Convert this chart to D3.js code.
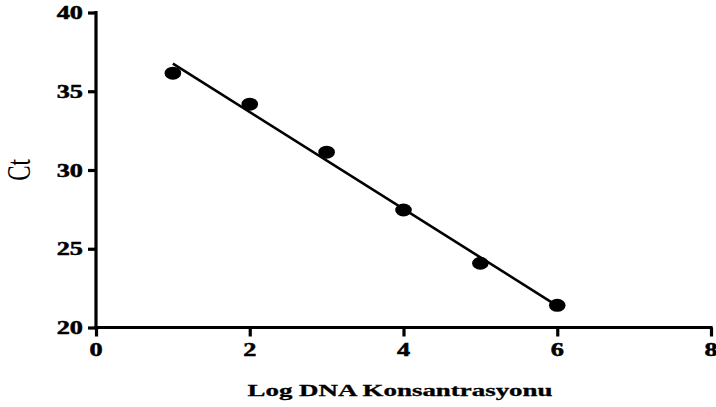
<!DOCTYPE html>
<html>
<head>
<meta charset="utf-8">
<script src="https://cdn.jsdelivr.net/npm/d3@7"></script>
<style>
html,body{margin:0;padding:0;background:#fff;}
svg{display:block;}
</style>
</head>
<body>
<svg id="chart" width="716" height="407"></svg>
<script>
// Data
const logConc = [1, 2, 3, 4, 5, 6];
const ctValues = [36.15, 34.18, 31.13, 27.46, 24.08, 21.41];
const xTicks = [0, 2, 4, 6, 8];
const yTicks = [20, 25, 30, 35, 40];
const xLabel = "Log DNA Konsantrasyonu";
const yLabel = "Ct";

const FONT = "Liberation Serif";
const svg = d3.select("#chart");
const x = d3.scaleLinear().domain([0, 8]).range([96, 711]);
const y = d3.scaleLinear().domain([20, 40]).range([327.5, 12.5]);
const SX = 1.42; // horizontal stretch of text in reference

// Regression line
const mx = d3.mean(logConc), my = d3.mean(ctValues);
let num = 0, den = 0;
logConc.forEach((v, i) => { num += (v - mx) * (ctValues[i] - my); den += (v - mx) ** 2; });
const slope = num / den, icpt = my - slope * mx;
const x0 = d3.min(logConc), x1 = d3.max(logConc);
svg.append("line")
  .attr("x1", x(x0)).attr("y1", y(icpt + slope * x0))
  .attr("x2", x(x1)).attr("y2", y(icpt + slope * x1))
  .attr("stroke", "#000").attr("stroke-width", 2.6);

// Points
svg.selectAll("ellipse.pt").data(logConc).join("ellipse")
  .attr("class", "pt")
  .attr("cx", d => x(d)).attr("cy", (d, i) => y(ctValues[i]))
  .attr("rx", 8.3).attr("ry", 6.5).attr("fill", "#000");

// Axes
const xAxis = svg.append("g").attr("transform", "translate(0,327.5)")
  .call(d3.axisBottom(x).tickValues(xTicks).tickSize(9).tickFormat(""));
const yAxis = svg.append("g").attr("transform", "translate(96,0)")
  .call(d3.axisLeft(y).tickValues(yTicks).tickSize(8).tickFormat(""));
[xAxis, yAxis].forEach(g => {
  g.select(".domain").attr("stroke", "#000").attr("stroke-width", 3.2).attr("stroke-linecap", "square");
  g.selectAll(".tick line").attr("stroke", "#000").attr("stroke-width", 3.2);
});
xAxis.select(".domain").attr("d", `M${x(0)},0H${x(8)}`);
yAxis.select(".domain").attr("d", `M0,${y(20)}V${y(40)}`);

// Tick labels
svg.selectAll("text.xt").data(xTicks).join("text")
  .attr("class", "xt")
  .attr("transform", d => `translate(${x(d)},356) scale(${SX},1)`)
  .attr("text-anchor", "middle").attr("font-weight", "bold").attr("font-size", 18.5)
  .attr("font-family", FONT).attr("fill", "#000")
  .attr("stroke", "#000").attr("stroke-width", 0.5)
  .text(d => d);
svg.selectAll("text.yt").data(yTicks).join("text")
  .attr("class", "yt")
  .attr("transform", d => `translate(83,${y(d) + 6.5}) scale(${SX},1)`)
  .attr("text-anchor", "end").attr("font-weight", "bold").attr("font-size", 18.5)
  .attr("font-family", FONT).attr("fill", "#000")
  .attr("stroke", "#000").attr("stroke-width", 0.5)
  .text(d => d);

// Axis titles
svg.append("text")
  .attr("x", 400).attr("y", 395.5)
  .attr("text-anchor", "middle").attr("font-weight", "bold").attr("font-size", 16.5)
  .attr("font-family", FONT).attr("fill", "#000")
  .attr("stroke", "#000").attr("stroke-width", 0.3)
  .attr("textLength", 305).attr("lengthAdjust", "spacingAndGlyphs")
  .text(xLabel);
svg.append("g").attr("transform", `translate(30,170) scale(${SX},1)`)
  .append("text")
  .attr("transform", "rotate(-90)")
  .attr("text-anchor", "middle").attr("font-size", 23)
  .attr("font-family", FONT).attr("fill", "#000")
  .text(yLabel);
</script>
</body>
</html>
